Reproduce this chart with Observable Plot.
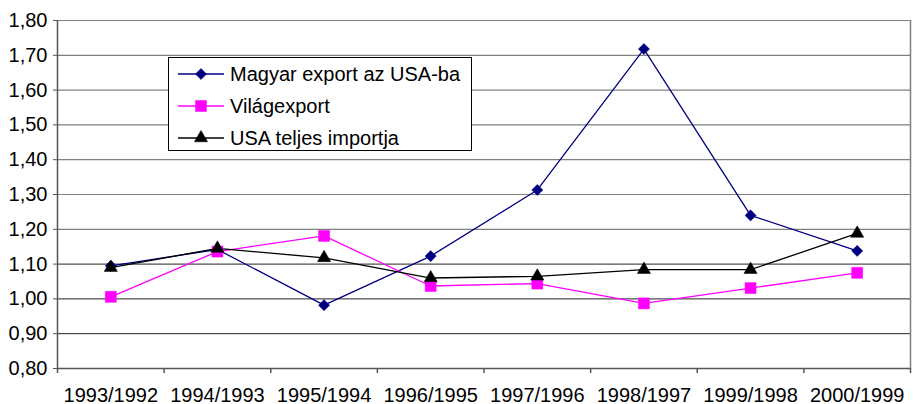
<!DOCTYPE html>
<html>
<head>
<meta charset="utf-8">
<script src="https://cdn.jsdelivr.net/npm/d3@7"></script>
<script src="https://cdn.jsdelivr.net/npm/@observablehq/plot@0.6"></script>
<style>
  html, body { margin: 0; padding: 0; background: #fff; }
  #wrap { position: relative; width: 913px; height: 404px; font-family: "Liberation Sans", Arial, sans-serif; }
  #legend { position: absolute; left: 168px; top: 57px; width: 304px; height: 94px; border: 1px solid #000; background: #fff; box-sizing: border-box; }
  .row { position: absolute; left: 0; height: 30px; display: flex; align-items: center; font-size: 20px; color: #000; }
  .row svg { display: block; margin-left: 9px; margin-right: 5px; }
</style>
</head>
<body>
<div id="wrap"></div>
<script>
const categories = ["1993/1992","1994/1993","1995/1994","1996/1995","1997/1996","1998/1997","1999/1998","2000/1999"];
const magyarExport = [1.095, 1.142, 0.982, 1.123, 1.313, 1.718, 1.240, 1.138];
const vilagExport  = [1.006, 1.136, 1.181, 1.037, 1.044, 0.987, 1.031, 1.075];
const usaImport    = [1.090, 1.145, 1.118, 1.060, 1.065, 1.084, 1.084, 1.188];
const yTicks = [0.8, 0.9, 1.0, 1.1, 1.2, 1.3, 1.4, 1.5, 1.6, 1.7, 1.8];
const seriesNames = ["Magyar export az USA-ba", "Világexport", "USA teljes importja"];

const seriesDefs = [
  {name: seriesNames[0], values: magyarExport, color: "#000080", symbol: "diamond2", r: 5.0},
  {name: seriesNames[1], values: vilagExport, color: "#FF00FF", symbol: "square", r: 6.2},
  {name: seriesNames[2], values: usaImport, color: "#000000", symbol: "triangle", r: 4.9}
];

const rows = [];
seriesDefs.forEach((s, k) => s.values.forEach((v, i) => rows.push({series: s.name, k, i, x: i + 0.5, v})));
const bounds = d3.range(categories.length + 1);
const fmt = d => d3.format(".2f")(d).replace(".", ",");

const marks = [
  Plot.ruleY(yTicks.slice(1).filter(t => t > 1.15), {stroke: "#808080", strokeWidth: 1.2}),
  Plot.ruleY(yTicks.slice(1).filter(t => t < 1.15), {stroke: "#222", strokeWidth: 1}),
  Plot.ruleX([categories.length], {stroke: "#808080", strokeWidth: 1.5}),
  Plot.ruleY([0.8], {stroke: "#555", strokeWidth: 1.5}),
  Plot.ruleX([0], {stroke: "#555", strokeWidth: 1.5})
];
for (const s of seriesDefs) {
  const data = rows.filter(r => r.series === s.name);
  marks.push(Plot.line(data, {x: "x", y: "v", stroke: s.color, strokeWidth: 1.3}));
}
for (const s of seriesDefs) {
  const data = rows.filter(r => r.series === s.name);
  marks.push(Plot.dot(data, {x: "x", y: "v", symbol: s.symbol, r: s.r, fill: s.color, stroke: s.color, strokeWidth: 0.5}));
}
marks.push(Plot.axisX(bounds, {tickSize: 5, tickFormat: () => "", stroke: "#555", strokeWidth: 1.5, label: null}));
marks.push(Plot.axisX(categories.map((c, i) => i + 0.5), {tickSize: 0, tickPadding: 19, tickFormat: d => categories[Math.floor(d)], fontSize: 20, fill: "#000", label: null}));
marks.push(Plot.axisY(yTicks, {tickSize: 4, tickPadding: 6, tickFormat: fmt, fontSize: 20, fill: "#000", stroke: "#555", label: null}));

const chart = Plot.plot({
  width: 913,
  height: 404,
  marginLeft: 57,
  marginRight: 3,
  marginTop: 20,
  marginBottom: 36,
  style: {fontFamily: "Liberation Sans, Arial, sans-serif", background: "#fff", overflow: "visible"},
  x: {type: "linear", domain: [0, categories.length]},
  y: {type: "linear", domain: [0.8, 1.8]},
  marks
});
const wrap = document.getElementById("wrap");
wrap.appendChild(chart);

// legend
const legend = document.createElement("div");
legend.id = "legend";
seriesDefs.forEach((s, k) => {
  const row = document.createElement("div");
  row.className = "row";
  row.style.top = (1 + k * 32) + "px";
  const sym = d3.symbol(s.symbol === "diamond2" ? d3.symbolDiamond2 : s.symbol === "square" ? d3.symbolSquare : d3.symbolTriangle, Math.PI * s.r * s.r)();
  row.innerHTML = `<svg width="47" height="30"><line x1="0" x2="46" y1="15" y2="15" stroke="${s.color}" stroke-width="1.3"/><path transform="translate(23,15)" d="${sym}" fill="${s.color}" stroke="${s.color}" stroke-width="0.5"/></svg><span>${s.name}</span>`;
  legend.appendChild(row);
});
wrap.appendChild(legend);
</script>
</body>
</html>
